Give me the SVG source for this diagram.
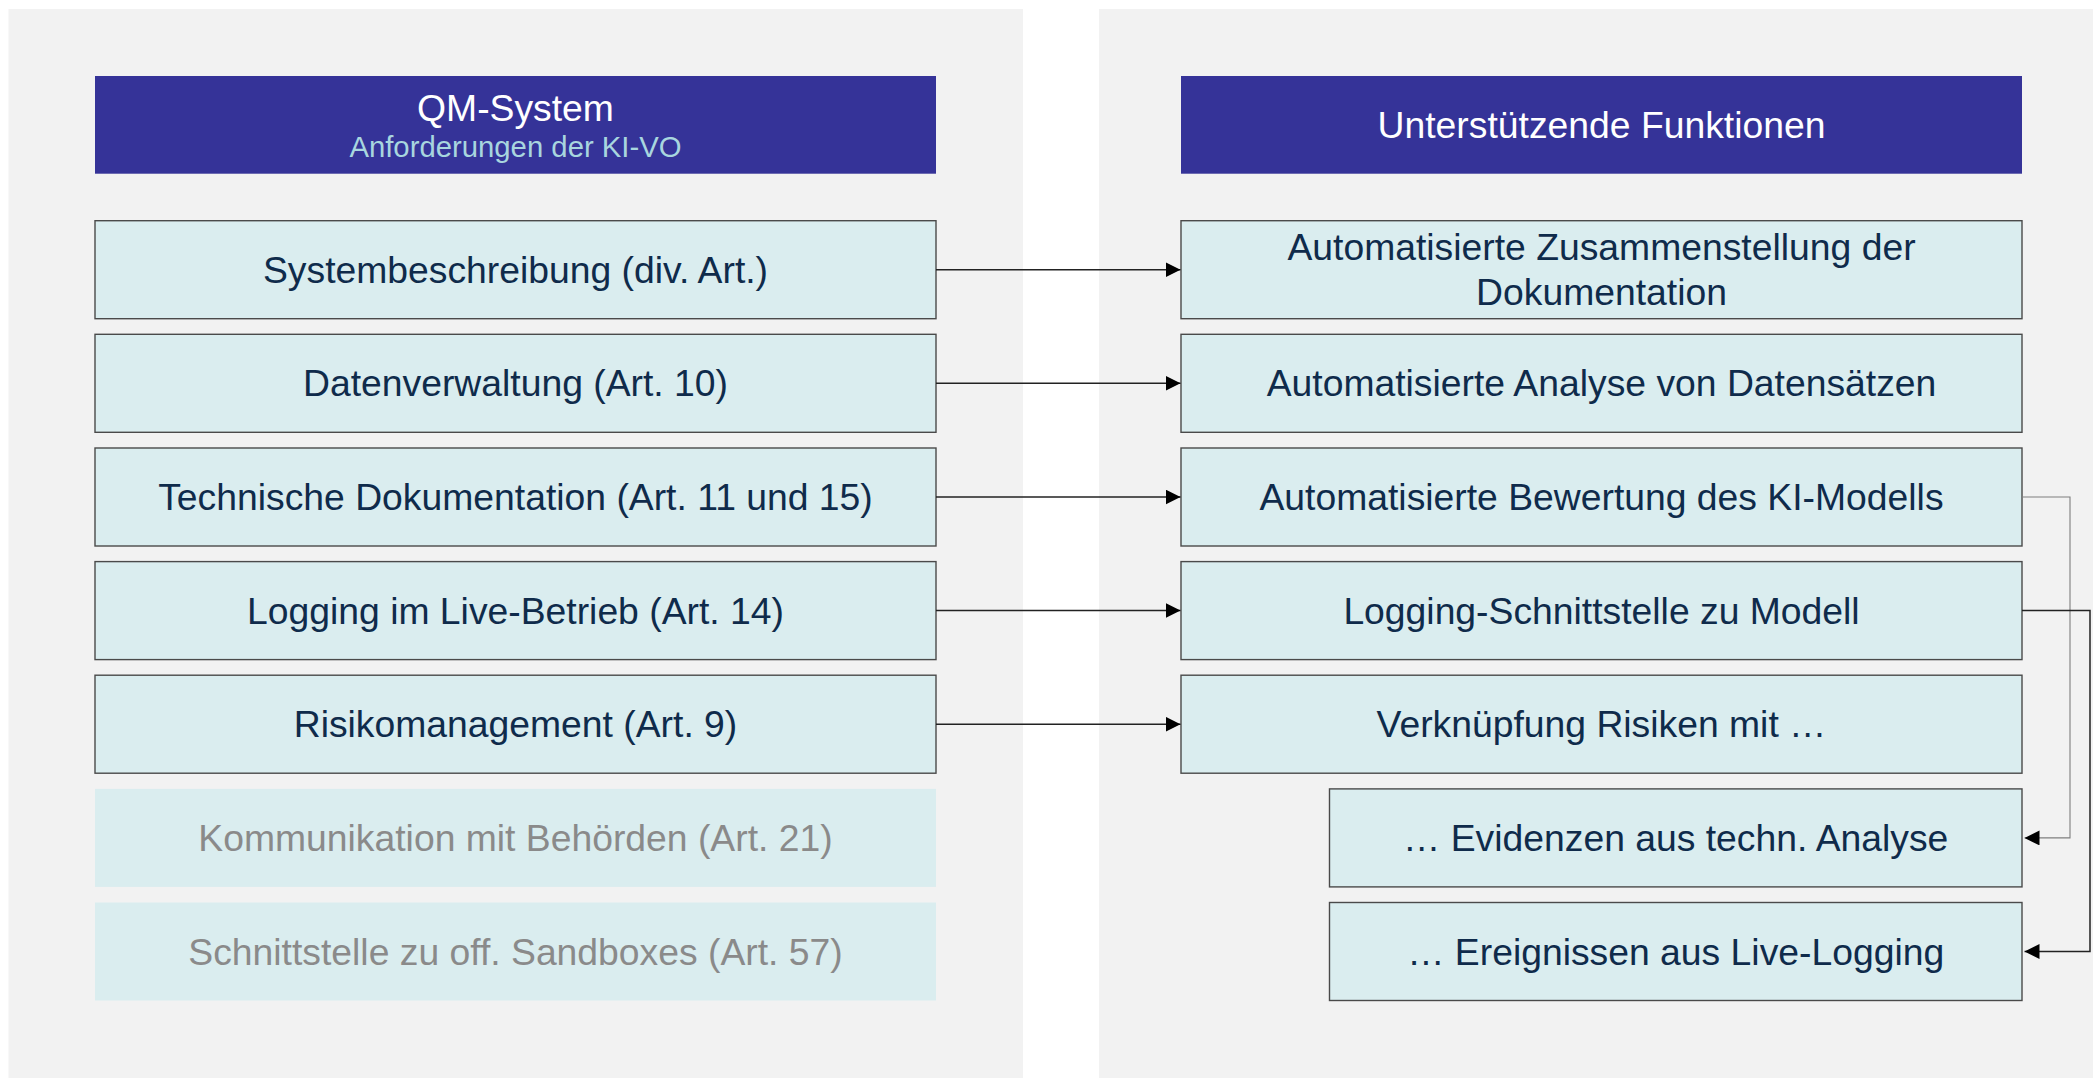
<svg xmlns="http://www.w3.org/2000/svg" width="2093" height="1078" viewBox="0 0 2093 1078">
<style>
.panel{fill:#f2f2f2}
.hdr{fill:#353398}
.box{fill:#daedef;stroke:#4a4a4a;stroke-width:1.4}
.boxn{fill:#daedef}
text{font-family:"Liberation Sans",Arial,sans-serif;text-anchor:middle}
.t{font-size:37.3px;fill:#0f2b4b}
.g{font-size:37.3px;fill:#8a8a8a}
.h{font-size:37.3px;fill:#ffffff}
.s{font-size:29.3px;fill:#a8d6df}
.c{fill:none;stroke:#222;stroke-width:1.5}
.cg{fill:none;stroke:#7f7f7f;stroke-width:1.1}
</style>
<defs>
<marker id="ah" viewBox="0 0 15 15" refX="15" refY="7.5" markerWidth="15" markerHeight="15" markerUnits="userSpaceOnUse" orient="auto">
<path d="M0,0 L15,7.5 L0,15 Z" fill="#000"/>
</marker>
</defs>
<rect class="panel" x="8.5" y="9" width="1014.5" height="1069"/>
<rect class="panel" x="1099" y="9" width="994" height="1069"/>

<g id="hdr-left">
<rect class="hdr" x="95" y="76" width="841" height="97.7"/>
<text class="h" x="515.5" y="120.7">QM-System</text>
<text class="s" x="515.5" y="156.5">Anforderungen der KI-VO</text>
</g>
<g id="hdr-right">
<rect class="hdr" x="1181" y="76" width="841" height="97.7"/>
<text class="h" x="1601.5" y="138.3">Unterstützende Funktionen</text>
</g>

<g id="l1"><rect class="box" x="95" y="220.7" width="841" height="98"/><text class="t" x="515.5" y="282.7">Systembeschreibung (div. Art.)</text></g>
<g id="l2"><rect class="box" x="95" y="334.3" width="841" height="98"/><text class="t" x="515.5" y="396.3">Datenverwaltung (Art. 10)</text></g>
<g id="l3"><rect class="box" x="95" y="448" width="841" height="98"/><text class="t" x="515.5" y="510">Technische Dokumentation (Art. 11 und 15)</text></g>
<g id="l4"><rect class="box" x="95" y="561.6" width="841" height="98"/><text class="t" x="515.5" y="623.6">Logging im Live-Betrieb (Art. 14)</text></g>
<g id="l5"><rect class="box" x="95" y="675.2" width="841" height="98"/><text class="t" x="515.5" y="737.2">Risikomanagement (Art. 9)</text></g>
<g id="l6"><rect class="boxn" x="95" y="788.9" width="841" height="98"/><text class="g" x="515.5" y="850.9">Kommunikation mit Behörden (Art. 21)</text></g>
<g id="l7"><rect class="boxn" x="95" y="902.5" width="841" height="98"/><text class="g" x="515.5" y="964.5">Schnittstelle zu off. Sandboxes (Art. 57)</text></g>

<g id="r1"><rect class="box" x="1181" y="220.7" width="841" height="98"/><text class="t" x="1601.5" y="260">Automatisierte Zusammenstellung der</text><text class="t" x="1601.5" y="305">Dokumentation</text></g>
<g id="r2"><rect class="box" x="1181" y="334.3" width="841" height="98"/><text class="t" x="1601.5" y="396.3">Automatisierte Analyse von Datensätzen</text></g>
<g id="r3"><rect class="box" x="1181" y="448" width="841" height="98"/><text class="t" x="1601.5" y="510">Automatisierte Bewertung des KI-Modells</text></g>
<g id="r4"><rect class="box" x="1181" y="561.6" width="841" height="98"/><text class="t" x="1601.5" y="623.6">Logging-Schnittstelle zu Modell</text></g>
<g id="r5"><rect class="box" x="1181" y="675.2" width="841" height="98"/><text class="t" x="1601.5" y="737.2">Verknüpfung Risiken mit …</text></g>
<g id="r6"><rect class="box" x="1329.5" y="788.9" width="692.5" height="98"/><text class="t" x="1675.7" y="850.9">… Evidenzen aus techn. Analyse</text></g>
<g id="r7"><rect class="box" x="1329.5" y="902.5" width="692.5" height="98"/><text class="t" x="1675.7" y="964.5">… Ereignissen aus Live-Logging</text></g>

<g id="connectors">
<line class="c" x1="936" y1="269.7" x2="1180.5" y2="269.7" marker-end="url(#ah)"/>
<line class="c" x1="936" y1="383.3" x2="1180.5" y2="383.3" marker-end="url(#ah)"/>
<line class="c" x1="936" y1="497" x2="1180.5" y2="497" marker-end="url(#ah)"/>
<line class="c" x1="936" y1="610.6" x2="1180.5" y2="610.6" marker-end="url(#ah)"/>
<line class="c" x1="936" y1="724.2" x2="1180.5" y2="724.2" marker-end="url(#ah)"/>
<polyline class="cg" points="2022,497 2070,497 2070,837.9 2024.5,837.9" marker-end="url(#ah)"/>
<polyline class="c" points="2022,610.6 2090,610.6 2090,951.5 2024.5,951.5" marker-end="url(#ah)"/>
</g>
</svg>
